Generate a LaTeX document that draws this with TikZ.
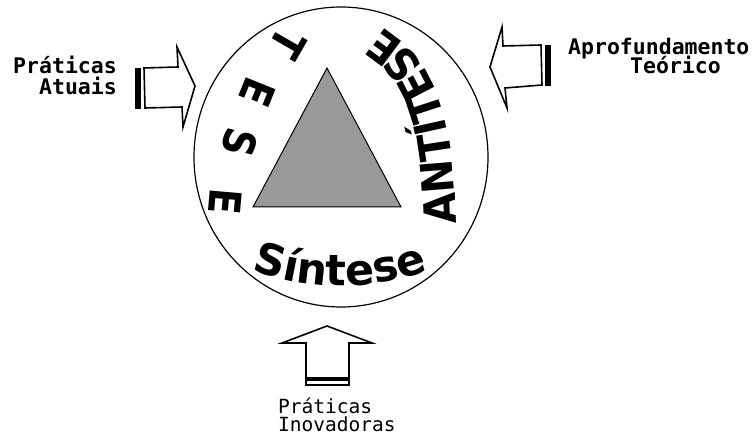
\documentclass[tikz,border=0pt]{standalone}
\usepackage{fontspec}
\setmainfont{DejaVu Sans}
\newfontfamily\monof{DejaVu Sans Mono}
\newfontfamily\condf[FakeStretch=0.86]{DejaVu Sans}
\newfontfamily\antf[FakeStretch=0.92]{DejaVu Sans}
\newfontfamily\plainf{DejaVu Sans}
\usetikzlibrary{decorations.text}
\definecolor{trigray}{RGB}{153,153,153}
\tikzset{
  blockarrow/.style={draw=black, line width=1.6pt, line join=miter, fill=white},
  tailbar/.style={fill=black, draw=none},
  sidelabel/.style={font=\monof\bfseries\fontsize{21.5}{24}\selectfont, inner sep=0pt},
  bottomlabel/.style={font=\monof\fontsize{19.5}{22}\selectfont, inner sep=0pt},
  teseletter/.style={font=\condf\bfseries\fontsize{44}{44}\selectfont, inner sep=0pt},
}
\begin{document}
\begin{tikzpicture}[x=1pt,y=1pt]
\useasboundingbox (0,0) rectangle (752,438);
% circle and triangle
\coordinate (cc) at (341,281);
\draw[line width=1.2pt] (cc) ellipse[x radius=147, y radius=150];
\coordinate (tA) at (327,370);
\coordinate (tB) at (253,231);
\coordinate (tC) at (401,231);
\draw[fill=trigray, line width=1pt] (tA) -- (tB) -- (tC) -- cycle;

% left arrow (pointing right)
\draw[blockarrow] (144,370) -- (178,371) -- (177,391) -- (195,352) -- (183,311) -- (182,331) -- (145,330) -- cycle;
\fill[tailbar] (135,329) rectangle (141,370);
% right arrow (pointing left)
\draw[blockarrow] (490,371) -- (502,411) -- (503,392) -- (541,393) -- (542,353) -- (505,350) -- (507,330) -- cycle;
\fill[tailbar] (545,352) rectangle (551,393);
% bottom arrow (pointing up)
\draw[blockarrow] (327,112) -- (372,95) -- (349,95) -- (349,53) -- (306,53) -- (306,95) -- (282,95) -- cycle;
\fill[tailbar] (306,56.5) rectangle (349,61);

% labels
\node[sidelabel, anchor=base east] (pa1) at (117,364) {Práticas};
\node[sidelabel, anchor=base east] (pa2) at (117,343) {Atuais};
\node[sidelabel, anchor=base west] (at1) at (568,383) {Aprofundamento};
\node[sidelabel, anchor=base west] (at2) at (630,364) {Teórico};
\node[bottomlabel, anchor=base west] (pi1) at (278,24) {Práticas};
\node[bottomlabel, anchor=base west] (pi2) at (278,6) {Inovadoras};

% TESE
\node[teseletter, rotate=-120] (t1) at (288,394) {T};
\node[teseletter, rotate=-112] (t2) at (258,345) {E};
\node[teseletter, rotate=-104] (t3) at (240,295) {S};
\node[teseletter, rotate=-95]  (t4) at (225,236) {E};

% ANTITESE
\coordinate (ant0) at (456,214);
\coordinate (ant1) at (350,425);
\path[decorate, decoration={text along path, text align=left,
  text={|\antf\bfseries\fontsize{44}{44}\selectfont|ANTÍTESE}}]
  (ant0) .. controls (453,320) and (440,395) .. (ant1);

% SINTESE
\path[decorate, decoration={text along path, text align=center,
  text={|\plainf\bfseries\fontsize{43}{43}\selectfont|Síntese}}]
  (340,412) ++(225:260) arc[start angle=225, end angle=315, radius=260];
\end{tikzpicture}
\end{document}
